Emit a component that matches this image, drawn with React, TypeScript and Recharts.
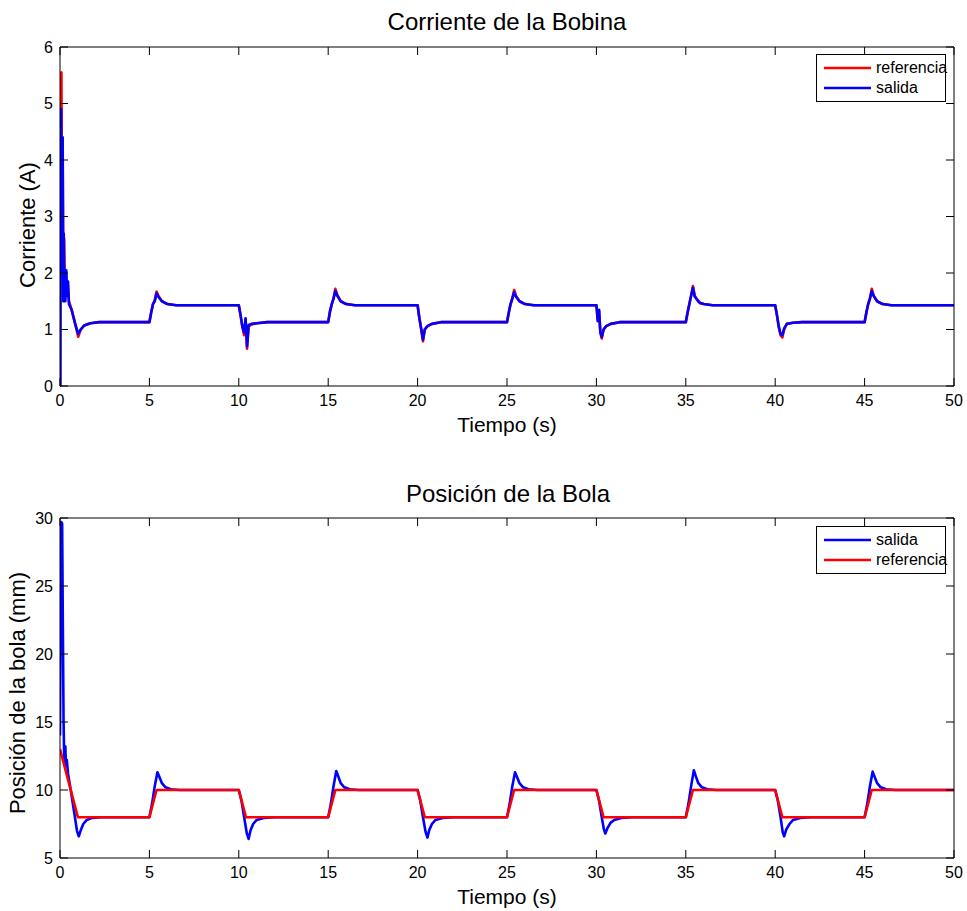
import React from "react";
import { LineChart, Line, XAxis, YAxis } from "recharts";

const FONT = '"Liberation Sans", Arial, Helvetica, sans-serif';

const xTicks = [0, 5, 10, 15, 20, 25, 30, 35, 40, 45, 50];
const corrienteTicks = [0, 1, 2, 3, 4, 5, 6];
const posicionTicks = [5, 10, 15, 20, 25, 30];

// Corriente de la Bobina: [tiempo (s), corriente (A)]
const corrienteReferencia: [number, number][] = [
  [0, 0], [0.02, 2.6], [0.04, 5.5], [0.08, 5.55], [0.11, 3.2], [0.15, 4.0], [0.19, 1.9], [0.23, 2.6],
  [0.28, 1.55], [0.33, 2.0], [0.38, 1.65], [0.43, 1.8], [0.5, 1.5], [0.65, 1.35], [0.85, 1.1],
  [1.02, 0.87], [1.15, 0.99], [1.35, 1.07], [1.7, 1.11], [2.2, 1.13],
  [5.0, 1.13], [5.1, 1.3], [5.2, 1.45], [5.3, 1.52], [5.4, 1.67], [5.5, 1.6], [5.7, 1.5], [6.0, 1.45], [6.5, 1.43],
  [10.0, 1.43], [10.1, 1.25], [10.2, 1.05], [10.3, 0.9], [10.38, 1.18], [10.46, 0.66], [10.55, 1.05], [10.7, 1.09], [11.0, 1.11], [11.6, 1.13],
  [15.0, 1.13], [15.1, 1.32], [15.2, 1.45], [15.3, 1.55], [15.4, 1.72], [15.5, 1.62], [15.7, 1.5], [16.0, 1.45], [16.5, 1.43],
  [20.0, 1.43], [20.1, 1.2], [20.2, 1.0], [20.3, 0.79], [20.4, 1.0], [20.55, 1.06], [20.8, 1.1], [21.3, 1.13],
  [25.0, 1.13], [25.1, 1.3], [25.2, 1.45], [25.3, 1.55], [25.4, 1.7], [25.5, 1.6], [25.7, 1.5], [26.0, 1.45], [26.5, 1.43],
  [30.0, 1.43], [30.08, 1.15], [30.15, 1.33], [30.22, 0.95], [30.3, 0.84], [30.4, 1.0], [30.55, 1.06], [30.8, 1.1], [31.3, 1.13],
  [35.0, 1.13], [35.1, 1.3], [35.2, 1.45], [35.3, 1.6], [35.4, 1.77], [35.5, 1.6], [35.7, 1.5], [35.8, 1.47], [36.0, 1.45], [36.5, 1.43],
  [40.0, 1.43], [40.1, 1.25], [40.2, 1.05], [40.3, 0.9], [40.4, 0.86], [40.5, 1.0], [40.65, 1.1], [41.0, 1.12], [41.5, 1.13],
  [45.0, 1.13], [45.1, 1.3], [45.2, 1.45], [45.3, 1.55], [45.4, 1.72], [45.5, 1.6], [45.7, 1.5], [46.0, 1.45], [46.5, 1.43],
  [50, 1.43],
];

const corrienteSalida: [number, number][] = [
  [0, 0], [0.02, 0], [0.03, 3.0], [0.06, 4.9], [0.09, 3.5], [0.12, 2.0], [0.15, 4.4], [0.18, 1.5], [0.21, 2.7],
  [0.25, 1.5], [0.3, 1.5], [0.35, 2.05], [0.4, 1.6], [0.45, 1.85], [0.5, 1.45], [0.65, 1.35], [0.85, 1.1],
  [1.02, 0.92], [1.15, 1.0], [1.35, 1.07], [1.7, 1.11], [2.2, 1.13],
  [5.0, 1.13], [5.1, 1.3], [5.2, 1.45], [5.3, 1.5], [5.4, 1.64], [5.5, 1.58], [5.7, 1.5], [6.0, 1.45], [6.5, 1.43],
  [10.0, 1.43], [10.1, 1.25], [10.2, 1.05], [10.3, 0.95], [10.38, 1.2], [10.46, 0.7], [10.55, 1.08], [10.7, 1.1], [11.0, 1.11], [11.6, 1.13],
  [15.0, 1.13], [15.1, 1.32], [15.2, 1.45], [15.3, 1.55], [15.4, 1.68], [15.5, 1.6], [15.7, 1.5], [16.0, 1.45], [16.5, 1.43],
  [20.0, 1.43], [20.1, 1.2], [20.2, 1.02], [20.3, 0.82], [20.4, 1.0], [20.55, 1.06], [20.8, 1.1], [21.3, 1.13],
  [25.0, 1.13], [25.1, 1.3], [25.2, 1.45], [25.3, 1.55], [25.4, 1.66], [25.5, 1.58], [25.7, 1.5], [26.0, 1.45], [26.5, 1.43],
  [30.0, 1.43], [30.08, 1.15], [30.15, 1.35], [30.22, 0.95], [30.3, 0.87], [30.4, 1.0], [30.55, 1.06], [30.8, 1.1], [31.3, 1.13],
  [35.0, 1.13], [35.1, 1.3], [35.2, 1.45], [35.3, 1.6], [35.4, 1.74], [35.5, 1.58], [35.7, 1.5], [35.8, 1.47], [36.0, 1.45], [36.5, 1.43],
  [40.0, 1.43], [40.1, 1.25], [40.2, 1.05], [40.3, 0.92], [40.4, 0.9], [40.5, 1.02], [40.65, 1.1], [41.0, 1.12], [41.5, 1.13],
  [45.0, 1.13], [45.1, 1.3], [45.2, 1.45], [45.3, 1.55], [45.4, 1.68], [45.5, 1.6], [45.7, 1.5], [46.0, 1.45], [46.5, 1.43],
  [50, 1.43],
];

// Posición de la Bola: [tiempo (s), posición (mm)]
const posicionSalida: [number, number][] = [
  [0, 14], [0.03, 22], [0.07, 29.7], [0.12, 29.6], [0.16, 22], [0.2, 15], [0.24, 12.0], [0.27, 12.6], [0.3, 13.2],
  [0.33, 11.8], [0.38, 12.2], [0.45, 11.2], [0.6, 10.0], [0.8, 8.3], [0.95, 7.0], [1.05, 6.6], [1.15, 7.0],
  [1.3, 7.5], [1.5, 7.8], [1.8, 7.95], [2.3, 8.0],
  [5.0, 8.0], [5.15, 9.0], [5.3, 10.3], [5.45, 11.3], [5.55, 11.0], [5.7, 10.5], [5.9, 10.2], [6.2, 10.05], [6.7, 10.0],
  [10.0, 10.0], [10.15, 9.2], [10.3, 8.0], [10.45, 6.8], [10.55, 6.4], [10.65, 7.0], [10.8, 7.5], [11.0, 7.8], [11.4, 7.95], [12.0, 8.0],
  [15.0, 8.0], [15.15, 9.0], [15.3, 10.3], [15.45, 11.4], [15.55, 11.05], [15.7, 10.5], [15.9, 10.2], [16.2, 10.05], [16.7, 10.0],
  [20.0, 10.0], [20.15, 9.2], [20.3, 8.0], [20.45, 6.9], [20.55, 6.5], [20.65, 7.05], [20.8, 7.5], [21.0, 7.8], [21.4, 7.95], [22.0, 8.0],
  [25.0, 8.0], [25.15, 9.0], [25.3, 10.3], [25.45, 11.3], [25.55, 11.0], [25.7, 10.5], [25.9, 10.2], [26.2, 10.05], [26.7, 10.0],
  [30.0, 10.0], [30.15, 9.2], [30.3, 8.0], [30.42, 7.1], [30.5, 6.8], [30.62, 7.2], [30.8, 7.6], [31.0, 7.8], [31.4, 7.95], [32.0, 8.0],
  [35.0, 8.0], [35.15, 9.0], [35.3, 10.3], [35.45, 11.45], [35.55, 11.05], [35.7, 10.5], [35.9, 10.2], [36.2, 10.05], [36.7, 10.0],
  [40.0, 10.0], [40.15, 9.2], [40.3, 8.0], [40.42, 6.9], [40.5, 6.6], [40.62, 7.1], [40.8, 7.5], [41.0, 7.8], [41.4, 7.95], [42.0, 8.0],
  [45.0, 8.0], [45.15, 9.0], [45.3, 10.3], [45.45, 11.35], [45.55, 11.0], [45.7, 10.5], [45.9, 10.2], [46.2, 10.05], [46.7, 10.0],
  [50, 10.0],
];

const posicionReferencia: [number, number][] = [
  [0, 13], [1.0, 8], [5.0, 8], [5.4, 10], [10.0, 10], [10.4, 8], [15.0, 8], [15.4, 10], [20.0, 10], [20.4, 8],
  [25.0, 8], [25.4, 10], [30.0, 10], [30.4, 8], [35.0, 8], [35.4, 10], [40.0, 10], [40.4, 8], [45.0, 8], [45.4, 10], [50, 10],
];

const toRows = (arr: [number, number][]) => arr.map(([t, v]) => ({ t, v }));

const RED = "#ff0000";
const BLUE = "#0000ff";

const tickStyle = { fill: "#000", fontSize: 16, fontFamily: FONT };

function Lbl({ cx, cy, size, text, rotate }: { cx: number; cy: number; size: number; text: string; rotate?: boolean }) {
  return (
    <div
      style={{
        position: "absolute",
        left: cx - 250,
        top: cy - 16,
        width: 500,
        height: 32,
        lineHeight: "32px",
        textAlign: "center",
        fontSize: size,
        fontFamily: FONT,
        color: "#000",
        whiteSpace: "nowrap",
        transform: rotate ? "rotate(-90deg)" : undefined,
      }}
    >
      {text}
    </div>
  );
}

function LegendBox({ top, items }: { top: number; items: { name: string; color: string }[] }) {
  return (
    <div
      style={{
        position: "absolute",
        left: 816,
        top,
        width: 128,
        height: 46,
        border: "1px solid #000",
        background: "#fff",
        fontFamily: FONT,
        fontSize: 16,
      }}
    >
      {items.map((it, i) => (
        <div key={it.name} style={{ position: "absolute", left: 0, top: 3 + i * 20, height: 20, width: 128 }}>
          <svg width={60} height={20} style={{ position: "absolute", left: 0, top: 0 }}>
            <line x1={7} x2={54} y1={10} y2={10} stroke={it.color} strokeWidth={2.5} />
          </svg>
          <span style={{ position: "absolute", left: 59, top: 0, lineHeight: "20px" }}>{it.name}</span>
        </div>
      ))}
    </div>
  );
}

function Panel({
  top,
  height,
  marginTop,
  xAxisHeight,
  marginBottom,
  domain,
  yTicks,
  series,
}: {
  top: number;
  height: number;
  marginTop: number;
  xAxisHeight: number;
  marginBottom: number;
  domain: [number, number];
  yTicks: number[];
  series: { name: string; color: string; data: { t: number; v: number }[] }[];
}) {
  return (
    <div style={{ position: "absolute", left: 0, top }}>
      <LineChart width={967} height={height} margin={{ top: marginTop, right: 12, left: 20, bottom: marginBottom }}>
        <XAxis
          xAxisId="b"
          type="number"
          dataKey="t"
          domain={[0, 50]}
          ticks={xTicks}
          allowDataOverflow
          height={xAxisHeight}
          tickSize={-8}
          tickMargin={17}
          tick={tickStyle}
          axisLine={{ stroke: "#000" }}
          tickLine={{ stroke: "#000" }}
          interval={0}
        />
        <XAxis
          xAxisId="top"
          orientation="top"
          type="number"
          dataKey="t"
          domain={[0, 50]}
          ticks={xTicks}
          allowDataOverflow
          height={1}
          tickSize={-8}
          tickFormatter={() => ""}
          axisLine={{ stroke: "#000" }}
          tickLine={{ stroke: "#000" }}
          interval={0}
        />
        <YAxis
          yAxisId="l"
          type="number"
          domain={domain}
          ticks={yTicks}
          allowDataOverflow
          width={40}
          tickSize={-8}
          tickMargin={15}
          tick={tickStyle}
          axisLine={{ stroke: "#000" }}
          tickLine={{ stroke: "#000" }}
          interval={0}
        />
        <YAxis
          yAxisId="r"
          orientation="right"
          type="number"
          domain={domain}
          ticks={yTicks}
          allowDataOverflow
          width={1}
          tickSize={-8}
          tickFormatter={() => ""}
          axisLine={{ stroke: "#000" }}
          tickLine={{ stroke: "#000" }}
          interval={0}
        />
        {series.map((s) => (
          <Line
            key={s.name}
            xAxisId="b"
            yAxisId="l"
            data={s.data}
            dataKey="v"
            name={s.name}
            type="linear"
            stroke={s.color}
            strokeWidth={2.6}
            dot={false}
            activeDot={false}
            isAnimationActive={false}
            strokeLinejoin="round"
          />
        ))}
      </LineChart>
    </div>
  );
}

export default function App() {
  return (
    <div style={{ position: "absolute", left: 0, top: 0, width: 967, height: 911, background: "#fff" }}>
      <Panel
        top={0}
        height={455}
        marginTop={46}
        xAxisHeight={60}
        marginBottom={9}
        domain={[0, 6]}
        yTicks={corrienteTicks}
        series={[
          { name: "referencia", color: RED, data: toRows(corrienteReferencia) },
          { name: "salida", color: BLUE, data: toRows(corrienteSalida) },
        ]}
      />
      <Panel
        top={460}
        height={451}
        marginTop={57}
        xAxisHeight={45}
        marginBottom={8}
        domain={[5, 30]}
        yTicks={posicionTicks}
        series={[
          { name: "salida", color: BLUE, data: toRows(posicionSalida) },
          { name: "referencia", color: RED, data: toRows(posicionReferencia) },
        ]}
      />
      <Lbl cx={507} cy={22} size={24} text="Corriente de la Bobina" />
      <Lbl cx={507} cy={425} size={21} text="Tiempo (s)" />
      <Lbl cx={28} cy={225} size={22} text="Corriente (A)" rotate />
      <Lbl cx={508} cy={494} size={24} text="Posición de la Bola" />
      <Lbl cx={507} cy={897} size={21} text="Tiempo (s)" />
      <Lbl cx={18} cy={693} size={22} text="Posición de la bola (mm)" rotate />
      <LegendBox
        top={54}
        items={[
          { name: "referencia", color: RED },
          { name: "salida", color: BLUE },
        ]}
      />
      <LegendBox
        top={526}
        items={[
          { name: "salida", color: BLUE },
          { name: "referencia", color: RED },
        ]}
      />
    </div>
  );
}
